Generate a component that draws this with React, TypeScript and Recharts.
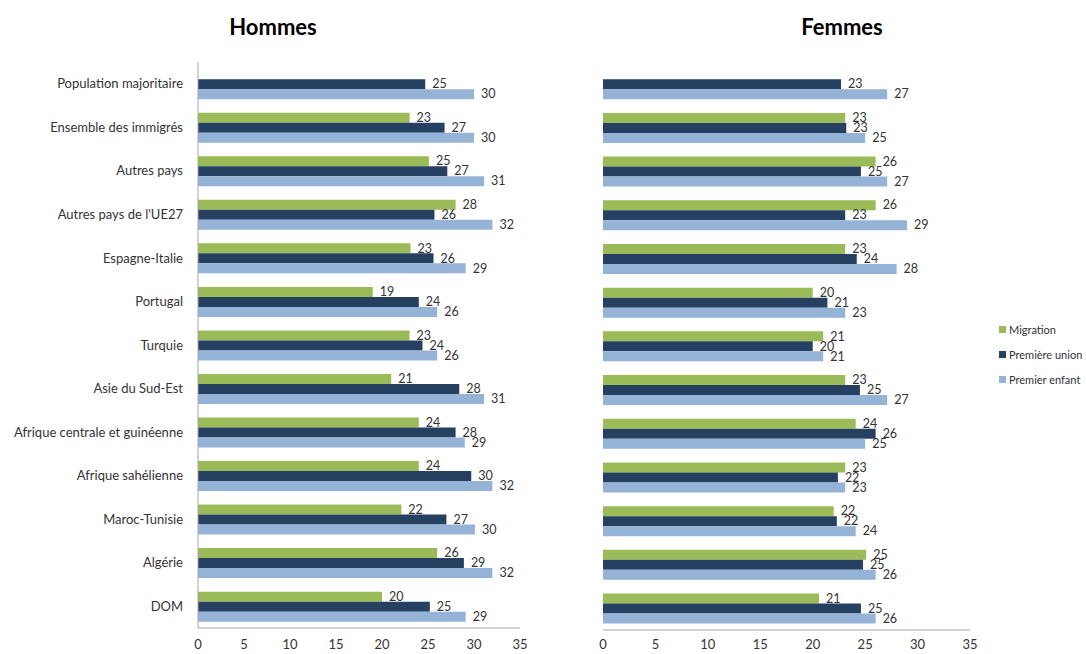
import React from 'react';
import { BarChart, Bar, XAxis, YAxis, LabelList } from 'recharts';

const categories = [
  'Population majoritaire',
  'Ensemble des immigrés',
  'Autres pays',
  "Autres pays de l'UE27",
  'Espagne-Italie',
  'Portugal',
  'Turquie',
  'Asie du Sud-Est',
  'Afrique centrale et guinéenne',
  'Afrique sahélienne',
  'Maroc-Tunisie',
  'Algérie',
  'DOM',
];

const hommesMigration = [null, 23.0, 25.1, 28.0, 23.1, 19.0, 23.0, 21.0, 24.0, 24.0, 22.1, 26.0, 20.0];
const hommesUnion = [24.7, 26.8, 27.1, 25.7, 25.6, 24.0, 24.4, 28.4, 28.0, 29.7, 27.0, 28.9, 25.2];
const hommesEnfant = [30.0, 30.0, 31.1, 32.0, 29.1, 26.0, 26.0, 31.1, 29.0, 32.0, 30.1, 32.0, 29.1];

const femmesMigration = [null, 23.1, 26.0, 26.0, 23.1, 20.0, 21.0, 23.1, 24.1, 23.1, 22.0, 25.1, 20.6];
const femmesUnion = [22.7, 23.2, 24.6, 23.1, 24.2, 21.4, 20.0, 24.5, 26.0, 22.4, 22.3, 24.8, 24.6];
const femmesEnfant = [27.1, 25.0, 27.1, 29.0, 28.0, 23.1, 21.0, 27.1, 25.0, 23.1, 24.1, 26.0, 26.0];

const xTicks = [0, 5, 10, 15, 20, 25, 30, 35];

const GREEN = '#9BBB59';
const NAVY = '#254061';
const LIGHT = '#95B3D7';
const FONT = 'Lato, "Open Sans", sans-serif';

const hommes = categories.map((name, i) => ({
  name,
  migration: hommesMigration[i],
  union: hommesUnion[i],
  enfant: hommesEnfant[i],
}));

const femmes = categories.map((name, i) => ({
  name,
  migration: femmesMigration[i],
  union: femmesUnion[i],
  enfant: femmesEnfant[i],
}));

const series = [
  { key: 'migration', name: 'Migration', color: GREEN },
  { key: 'union', name: 'Première union', color: NAVY },
  { key: 'enfant', name: 'Premier enfant', color: LIGHT },
];

const renderLabel = (props: any) => {
  const { x, y, width, height, value } = props;
  if (value == null) return null;
  return (
    <text
      x={x + width + 7}
      y={y + height / 2 + 1}
      fill="#333"
      fontSize={12.5}
      fontFamily={FONT}
      dominantBaseline="middle"
    >
      {Math.round(value)}
    </text>
  );
};

function renderBars() {
  return series.map((s) => (
    <Bar key={s.key} dataKey={s.key} name={s.name} fill={s.color} isAnimationActive={false}>
      <LabelList dataKey={s.key} content={renderLabel} />
    </Bar>
  ));
}

const tickStyle = { fontSize: 13, fill: '#333', fontFamily: FONT };

const CHART_H = 654;

export default function App() {
  return (
    <div style={{ position: 'absolute', left: 0, top: 0, width: 1086, height: 654, background: '#fff', fontFamily: FONT }}>
      <div style={{ position: 'absolute', left: 200, width: 146, top: 13, textAlign: 'center', fontSize: 22, fontWeight: 700, color: '#000' }}>
        Hommes
      </div>
      <div style={{ position: 'absolute', left: 769, width: 146, top: 13, textAlign: 'center', fontSize: 22, fontWeight: 700, color: '#000' }}>
        Femmes
      </div>

      <div style={{ position: 'absolute', left: 0, top: 0 }}>
        <BarChart
          width={540}
          height={CHART_H}
          data={hommes}
          layout="vertical"
          margin={{ top: 62, right: 20, bottom: 0, left: 0 }}
          barCategoryGap="16.5%"
          barGap={0}
        >
          <XAxis
            type="number"
            domain={[0, 35]}
            ticks={xTicks}
            axisLine={{ stroke: '#a6a6a6' }}
            tickLine={false}
            tick={tickStyle}
            tickMargin={6}
            height={CHART_H - 628}
          />
          <YAxis
            type="category"
            dataKey="name"
            width={198}
            axisLine={{ stroke: '#a6a6a6' }}
            tickLine={false}
            tick={tickStyle}
            tickMargin={9}
            interval={0}
          />
          {renderBars()}
        </BarChart>
      </div>

      <div style={{ position: 'absolute', left: 540, top: 0 }}>
        <BarChart
          width={546}
          height={CHART_H}
          data={femmes}
          layout="vertical"
          margin={{ top: 62, right: 116, bottom: 0, left: 63 }}
          barCategoryGap="16.5%"
          barGap={0}
        >
          <XAxis
            type="number"
            domain={[0, 35]}
            ticks={xTicks}
            axisLine={{ stroke: '#a6a6a6' }}
            tickLine={false}
            tick={tickStyle}
            tickMargin={4}
            height={CHART_H - 630}
          />
          <YAxis type="category" dataKey="name" hide />
          {renderBars()}
        </BarChart>
      </div>

      <div style={{ position: 'absolute', left: 999, top: 317, fontSize: 11, color: '#333' }}>
        {series.map((s) => (
          <div key={s.key} style={{ display: 'flex', alignItems: 'center', height: 25 }}>
            <span style={{ display: 'inline-block', width: 7, height: 7, background: s.color, marginRight: 3 }} />
            {s.name}
          </div>
        ))}
      </div>
    </div>
  );
}
